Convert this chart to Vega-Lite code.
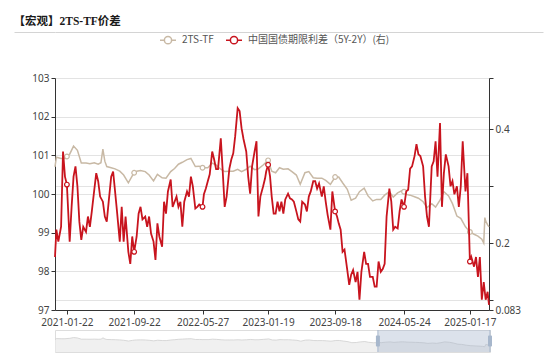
{
  "$schema": "https://vega.github.io/schema/vega-lite/v6.json",
  "padding": {"left": 13, "right": 2, "top": 16, "bottom": 2},
  "background": "white",
  "spacing": 2,
  "resolve": {"scale": {"color": "independent"}, "legend": {"color": "independent"}},
  "datasets": {
    "ts": [
      {"d":"2020-12-10","v":100.7},{"d":"2020-12-15","v":100.95},{"d":"2021-01-01","v":100.92},{"d":"2021-01-15","v":100.92},{"d":"2021-01-22","v":100.97},
      {"d":"2021-02-01","v":101.03},{"d":"2021-02-15","v":101.24},{"d":"2021-03-01","v":101.13},{"d":"2021-03-15","v":100.8},{"d":"2021-04-01","v":100.8},
      {"d":"2021-04-15","v":100.78},{"d":"2021-05-01","v":100.81},{"d":"2021-05-15","v":100.77},{"d":"2021-05-25","v":100.81},{"d":"2021-06-01","v":101.16},
      {"d":"2021-06-08","v":100.85},{"d":"2021-06-15","v":100.71},{"d":"2021-07-01","v":100.68},{"d":"2021-07-15","v":100.65},{"d":"2021-08-01","v":100.59},
      {"d":"2021-08-15","v":100.49},{"d":"2021-09-01","v":100.29},{"d":"2021-09-15","v":100.47},{"d":"2021-09-22","v":100.55},{"d":"2021-10-01","v":100.59},
      {"d":"2021-10-15","v":100.61},{"d":"2021-11-01","v":100.58},{"d":"2021-11-15","v":100.49},{"d":"2021-12-01","v":100.34},{"d":"2021-12-15","v":100.51},
      {"d":"2022-01-01","v":100.42},{"d":"2022-01-15","v":100.41},{"d":"2022-02-01","v":100.58},{"d":"2022-02-15","v":100.66},{"d":"2022-03-01","v":100.77},
      {"d":"2022-03-15","v":100.82},{"d":"2022-04-01","v":100.89},{"d":"2022-04-15","v":100.92},{"d":"2022-05-01","v":100.71},{"d":"2022-05-15","v":100.72},
      {"d":"2022-05-27","v":100.68},{"d":"2022-06-15","v":100.68},{"d":"2022-07-01","v":100.8},{"d":"2022-07-15","v":100.75},{"d":"2022-08-01","v":100.64},
      {"d":"2022-08-15","v":100.58},{"d":"2022-09-01","v":100.59},{"d":"2022-09-15","v":100.59},{"d":"2022-10-01","v":100.64},{"d":"2022-10-15","v":100.58},
      {"d":"2022-11-01","v":100.64},{"d":"2022-11-15","v":100.72},{"d":"2022-12-01","v":100.63},{"d":"2022-12-15","v":100.65},{"d":"2023-01-01","v":100.75},
      {"d":"2023-01-19","v":100.87},{"d":"2023-02-01","v":100.59},{"d":"2023-02-15","v":100.55},{"d":"2023-03-01","v":100.68},{"d":"2023-03-15","v":100.64},
      {"d":"2023-04-01","v":100.65},{"d":"2023-04-15","v":100.58},{"d":"2023-05-01","v":100.49},{"d":"2023-05-15","v":100.25},{"d":"2023-06-01","v":100.55},
      {"d":"2023-06-15","v":100.58},{"d":"2023-07-01","v":100.42},{"d":"2023-07-15","v":100.41},{"d":"2023-08-01","v":100.41},{"d":"2023-08-15","v":100.35},
      {"d":"2023-09-01","v":100.25},{"d":"2023-09-18","v":100.44},{"d":"2023-10-01","v":100.44},{"d":"2023-10-15","v":100.29},{"d":"2023-11-01","v":100.12},
      {"d":"2023-11-15","v":99.84},{"d":"2023-12-01","v":99.89},{"d":"2023-12-15","v":100.06},{"d":"2024-01-01","v":100.15},{"d":"2024-01-15","v":99.95},
      {"d":"2024-02-01","v":99.82},{"d":"2024-02-15","v":99.86},{"d":"2024-03-01","v":99.86},{"d":"2024-03-15","v":99.97},{"d":"2024-04-01","v":100.06},
      {"d":"2024-04-15","v":99.92},{"d":"2024-05-01","v":100.03},{"d":"2024-05-15","v":100.08},{"d":"2024-05-24","v":100.06},{"d":"2024-06-01","v":99.99},
      {"d":"2024-06-15","v":99.97},{"d":"2024-07-01","v":99.93},{"d":"2024-07-15","v":99.89},{"d":"2024-08-01","v":99.8},{"d":"2024-08-15","v":99.65},
      {"d":"2024-09-01","v":99.75},{"d":"2024-09-15","v":99.66},{"d":"2024-10-01","v":99.84},{"d":"2024-10-15","v":100.06},{"d":"2024-11-01","v":99.95},
      {"d":"2024-11-15","v":99.75},{"d":"2024-12-01","v":99.43},{"d":"2024-12-15","v":99.37},{"d":"2025-01-01","v":99.15},{"d":"2025-01-17","v":99.02},
      {"d":"2025-02-01","v":98.96},{"d":"2025-02-15","v":98.91},{"d":"2025-03-01","v":98.83},{"d":"2025-03-08","v":98.73},{"d":"2025-03-12","v":99.39},
      {"d":"2025-03-15","v":99.3},{"d":"2025-03-22","v":99.2},{"d":"2025-03-27","v":99.15}
    ],
    "sp": [
      {"d":"2020-12-10","v":0.176},{"d":"2020-12-15","v":0.224},{"d":"2020-12-22","v":0.203},{"d":"2021-01-01","v":0.229},{"d":"2021-01-08","v":0.361},
      {"d":"2021-01-15","v":0.317},{"d":"2021-01-22","v":0.303},{"d":"2021-02-01","v":0.203},{"d":"2021-02-08","v":0.264},{"d":"2021-02-15","v":0.317},
      {"d":"2021-02-22","v":0.335},{"d":"2021-03-01","v":0.3},{"d":"2021-03-08","v":0.238},{"d":"2021-03-15","v":0.206},{"d":"2021-03-22","v":0.229},
      {"d":"2021-04-01","v":0.22},{"d":"2021-04-08","v":0.247},{"d":"2021-04-15","v":0.229},{"d":"2021-04-22","v":0.256},{"d":"2021-05-01","v":0.294},
      {"d":"2021-05-08","v":0.323},{"d":"2021-05-15","v":0.309},{"d":"2021-05-22","v":0.282},{"d":"2021-06-01","v":0.273},{"d":"2021-06-08","v":0.247},
      {"d":"2021-06-15","v":0.238},{"d":"2021-06-22","v":0.273},{"d":"2021-07-01","v":0.317},{"d":"2021-07-08","v":0.326},{"d":"2021-07-15","v":0.291},
      {"d":"2021-07-22","v":0.256},{"d":"2021-08-01","v":0.203},{"d":"2021-08-08","v":0.264},{"d":"2021-08-15","v":0.203},{"d":"2021-08-22","v":0.247},
      {"d":"2021-09-01","v":0.185},{"d":"2021-09-08","v":0.164},{"d":"2021-09-15","v":0.212},{"d":"2021-09-22","v":0.185},{"d":"2021-10-01","v":0.212},
      {"d":"2021-10-08","v":0.252},{"d":"2021-10-15","v":0.264},{"d":"2021-10-22","v":0.242},{"d":"2021-11-01","v":0.247},{"d":"2021-11-08","v":0.229},
      {"d":"2021-11-15","v":0.247},{"d":"2021-11-22","v":0.217},{"d":"2021-12-01","v":0.203},{"d":"2021-12-08","v":0.171},{"d":"2021-12-15","v":0.235},
      {"d":"2021-12-22","v":0.212},{"d":"2022-01-01","v":0.194},{"d":"2022-01-08","v":0.273},{"d":"2022-01-15","v":0.252},{"d":"2022-01-22","v":0.291},
      {"d":"2022-02-01","v":0.312},{"d":"2022-02-08","v":0.264},{"d":"2022-02-15","v":0.273},{"d":"2022-02-22","v":0.282},{"d":"2022-03-01","v":0.264},
      {"d":"2022-03-08","v":0.273},{"d":"2022-03-15","v":0.229},{"d":"2022-03-22","v":0.273},{"d":"2022-04-01","v":0.291},{"d":"2022-04-08","v":0.282},
      {"d":"2022-04-15","v":0.317},{"d":"2022-04-22","v":0.3},{"d":"2022-05-01","v":0.261},{"d":"2022-05-08","v":0.264},{"d":"2022-05-15","v":0.268},
      {"d":"2022-05-27","v":0.264},{"d":"2022-06-01","v":0.286},{"d":"2022-06-08","v":0.296},{"d":"2022-06-15","v":0.309},{"d":"2022-06-22","v":0.321},
      {"d":"2022-07-01","v":0.361},{"d":"2022-07-08","v":0.347},{"d":"2022-07-15","v":0.33},{"d":"2022-07-22","v":0.33},{"d":"2022-08-01","v":0.384},
      {"d":"2022-08-08","v":0.326},{"d":"2022-08-15","v":0.264},{"d":"2022-08-22","v":0.282},{"d":"2022-09-01","v":0.331},{"d":"2022-09-08","v":0.347},
      {"d":"2022-09-15","v":0.358},{"d":"2022-09-22","v":0.388},{"d":"2022-10-01","v":0.437},{"d":"2022-10-08","v":0.432},{"d":"2022-10-15","v":0.402},
      {"d":"2022-10-22","v":0.383},{"d":"2022-11-01","v":0.361},{"d":"2022-11-08","v":0.317},{"d":"2022-11-15","v":0.287},{"d":"2022-11-22","v":0.335},
      {"d":"2022-12-01","v":0.361},{"d":"2022-12-08","v":0.379},{"d":"2022-12-15","v":0.247},{"d":"2022-12-22","v":0.282},{"d":"2023-01-01","v":0.3},
      {"d":"2023-01-08","v":0.314},{"d":"2023-01-12","v":0.326},{"d":"2023-01-19","v":0.338},{"d":"2023-01-26","v":0.317},{"d":"2023-02-01","v":0.282},
      {"d":"2023-02-08","v":0.252},{"d":"2023-02-15","v":0.252},{"d":"2023-02-22","v":0.273},{"d":"2023-03-01","v":0.256},{"d":"2023-03-08","v":0.273},
      {"d":"2023-03-15","v":0.252},{"d":"2023-03-22","v":0.277},{"d":"2023-04-01","v":0.287},{"d":"2023-04-08","v":0.279},{"d":"2023-04-15","v":0.277},
      {"d":"2023-04-22","v":0.273},{"d":"2023-05-01","v":0.256},{"d":"2023-05-08","v":0.242},{"d":"2023-05-15","v":0.238},{"d":"2023-05-22","v":0.273},
      {"d":"2023-06-01","v":0.268},{"d":"2023-06-08","v":0.256},{"d":"2023-06-15","v":0.282},{"d":"2023-06-22","v":0.291},{"d":"2023-07-01","v":0.309},
      {"d":"2023-07-08","v":0.309},{"d":"2023-07-15","v":0.296},{"d":"2023-07-22","v":0.305},{"d":"2023-08-01","v":0.282},{"d":"2023-08-08","v":0.3},
      {"d":"2023-08-15","v":0.273},{"d":"2023-08-22","v":0.25},{"d":"2023-09-01","v":0.224},{"d":"2023-09-08","v":0.291},{"d":"2023-09-18","v":0.256},
      {"d":"2023-09-25","v":0.247},{"d":"2023-10-01","v":0.235},{"d":"2023-10-08","v":0.224},{"d":"2023-10-15","v":0.185},{"d":"2023-10-22","v":0.189},
      {"d":"2023-11-01","v":0.153},{"d":"2023-11-08","v":0.127},{"d":"2023-11-15","v":0.145},{"d":"2023-11-22","v":0.153},{"d":"2023-12-01","v":0.132},
      {"d":"2023-12-08","v":0.15},{"d":"2023-12-15","v":0.101},{"d":"2023-12-22","v":0.15},{"d":"2024-01-01","v":0.185},{"d":"2024-01-08","v":0.164},
      {"d":"2024-01-15","v":0.164},{"d":"2024-01-22","v":0.141},{"d":"2024-02-01","v":0.141},{"d":"2024-02-08","v":0.124},{"d":"2024-02-15","v":0.124},
      {"d":"2024-02-22","v":0.168},{"d":"2024-03-01","v":0.15},{"d":"2024-03-08","v":0.155},{"d":"2024-03-15","v":0.164},{"d":"2024-03-22","v":0.247},
      {"d":"2024-04-01","v":0.296},{"d":"2024-04-08","v":0.273},{"d":"2024-04-15","v":0.224},{"d":"2024-04-22","v":0.229},{"d":"2024-05-01","v":0.226},
      {"d":"2024-05-08","v":0.256},{"d":"2024-05-15","v":0.277},{"d":"2024-05-24","v":0.264},{"d":"2024-06-01","v":0.291},{"d":"2024-06-08","v":0.294},
      {"d":"2024-06-15","v":0.331},{"d":"2024-06-22","v":0.335},{"d":"2024-07-01","v":0.353},{"d":"2024-07-08","v":0.374},{"d":"2024-07-15","v":0.356},
      {"d":"2024-07-22","v":0.353},{"d":"2024-08-01","v":0.335},{"d":"2024-08-08","v":0.282},{"d":"2024-08-15","v":0.247},{"d":"2024-08-22","v":0.229},
      {"d":"2024-09-01","v":0.335},{"d":"2024-09-08","v":0.344},{"d":"2024-09-15","v":0.379},{"d":"2024-09-22","v":0.317},{"d":"2024-10-01","v":0.411},
      {"d":"2024-10-08","v":0.264},{"d":"2024-10-15","v":0.323},{"d":"2024-10-22","v":0.356},{"d":"2024-11-01","v":0.335},{"d":"2024-11-08","v":0.3},
      {"d":"2024-11-15","v":0.309},{"d":"2024-11-22","v":0.286},{"d":"2024-12-01","v":0.3},{"d":"2024-12-08","v":0.264},{"d":"2024-12-15","v":0.3},
      {"d":"2024-12-22","v":0.379},{"d":"2025-01-01","v":0.291},{"d":"2025-01-08","v":0.323},{"d":"2025-01-17","v":0.168},{"d":"2025-01-22","v":0.176},
      {"d":"2025-02-01","v":0.159},{"d":"2025-02-08","v":0.176},{"d":"2025-02-15","v":0.141},{"d":"2025-02-22","v":0.176},{"d":"2025-03-01","v":0.101},
      {"d":"2025-03-08","v":0.132},{"d":"2025-03-15","v":0.101},{"d":"2025-03-22","v":0.115},{"d":"2025-03-27","v":0.092}
    ],
    "win": [{"a":"2024-02-17","b":"2025-03-27"}]
  },
  "vconcat": [
    {
      "title": {"text": "【宏观】2TS-TF价差", "anchor": "start", "frame": "bounds", "font": "Liberation Serif, Noto Sans CJK SC", "fontSize": 11.5, "fontWeight": "bold", "color": "#1a1a1a", "offset": -7, "baseline": "bottom"},
      "width": 488,
      "height": 1,
      "view": {"stroke": null},
      "data": {"values": []},
      "mark": {"type": "point", "opacity": 0},
      "encoding": {
        "y": {"datum": 0, "type": "quantitative", "scale": {"domain": [0, 1], "nice": false},
          "axis": {"orient": "left", "title": null, "values": [1], "labels": false, "domain": false,
            "ticks": true, "tickSize": 41, "tickColor": "#d4d4d4", "tickWidth": 1,
            "grid": true, "gridColor": "#d4d4d4", "gridWidth": 1}}
      }
    },
    {
      "width": 434,
      "height": 232,
      "view": {"stroke": null},
      "encoding": {
        "x": {
          "field": "d", "type": "temporal",
          "scale": {"type": "utc", "domain": [{"year": 2020, "month": 12, "date": 10, "utc": true}, {"year": 2025, "month": 3, "date": 27, "utc": true}]},
          "axis": {
            "title": null, "grid": false, "format": "%Y-%m-%d",
            "values": [
              {"year": 2021, "month": 1, "date": 22, "utc": true},
              {"year": 2021, "month": 9, "date": 22, "utc": true},
              {"year": 2022, "month": 5, "date": 27, "utc": true},
              {"year": 2023, "month": 1, "date": 19, "utc": true},
              {"year": 2023, "month": 9, "date": 18, "utc": true},
              {"year": 2024, "month": 5, "date": 24, "utc": true},
              {"year": 2025, "month": 1, "date": 17, "utc": true}
            ],
            "domainColor": "#333333", "tickColor": "#333333", "tickSize": 4,
            "labelColor": "#444444", "labelFont": "Noto Sans", "labelFontSize": 10, "labelPadding": 3,
            "labelFlush": false, "labelOverlap": false, "minExtent": 15, "maxExtent": 15
          }
        }
      },
      "layer": [
        {
          "data": {"name": "ts", "format": {"parse": {"d": "date"}}},
          "encoding": {
            "y": {
              "field": "v", "type": "quantitative",
              "scale": {"domain": [97, 103], "nice": false, "zero": false},
              "axis": {
                "orient": "left", "title": null, "values": [97, 98, 99, 100, 101, 102, 103],
                "grid": true, "gridColor": "#e3e3e3", "domainColor": "#333333", "tickColor": "#333333", "tickSize": 4,
                "labelColor": "#444444", "labelFont": "Noto Sans", "labelFontSize": 10, "labelPadding": 2
              }
            }
          },
          "layer": [
            {
              "mark": {"type": "line", "strokeWidth": 1.5},
              "encoding": {
                "color": {"datum": "2TS-TF", "type": "nominal",
                  "scale": {"domain": ["2TS-TF", "中国国债期限利差（5Y-2Y）(右)"], "range": ["#c8b9a5", "#c8141e"]},
                  "legend": {"title": null, "orient": "none", "legendX": 108, "legendY": -43, "direction": "horizontal",
                    "symbolType": "M-2,0H-0.9M0.9,0H2M0.9,0A0.9,0.9,0,1,1,-0.9,0A0.9,0.9,0,1,1,0.9,0",
                    "symbolSize": 64, "symbolStrokeWidth": 1.5, "symbolFillColor": "#ffffff",
                    "labelFont": "Noto Sans CJK SC", "labelFontSize": 10, "labelColor": "#555555", "labelOffset": 9, "columnPadding": 9, "padding": 0}
                }
              }
            },
            {
              "transform": [{"filter": "indexof(['2021-01-22','2021-09-22','2022-05-27','2023-01-19','2023-09-18','2024-05-24','2025-01-17'], utcFormat(datum.d, '%Y-%m-%d')) >= 0"}],
              "mark": {"type": "point", "filled": false, "fill": "#ffffff", "size": 22, "strokeWidth": 1.2, "opacity": 1},
              "encoding": {
                "color": {"datum": "2TS-TF", "type": "nominal",
                  "legend": {"title": null, "orient": "none", "legendX": 108, "legendY": -43, "direction": "horizontal",
                    "symbolType": "M-2,0H-0.9M0.9,0H2M0.9,0A0.9,0.9,0,1,1,-0.9,0A0.9,0.9,0,1,1,0.9,0",
                    "symbolSize": 64, "symbolStrokeWidth": 1.5, "symbolFillColor": "#ffffff",
                    "labelFont": "Noto Sans CJK SC", "labelFontSize": 10, "labelColor": "#555555", "labelOffset": 9, "columnPadding": 9, "padding": 0}
                }
              }
            }
          ]
        },
        {
          "data": {"name": "sp", "format": {"parse": {"d": "date"}}},
          "encoding": {
            "y": {
              "field": "v", "type": "quantitative",
              "scale": {"domain": [0.083, 0.49], "nice": false, "zero": false},
              "axis": {
                "orient": "right", "title": null, "values": [0.083, 0.1, 0.2, 0.3, 0.4, 0.49], "format": "~g",
                "grid": true, "gridColor": "#e3e3e3", "domainColor": "#333333", "tickColor": "#333333", "tickSize": 4,
                "labelColor": "#444444", "labelFont": "Noto Sans", "labelFontSize": 10, "labelPadding": 2
              }
            }
          },
          "layer": [
            {
              "mark": {"type": "line", "strokeWidth": 1.8},
              "encoding": {
                "color": {"datum": "中国国债期限利差（5Y-2Y）(右)", "type": "nominal",
                  "legend": {"title": null, "orient": "none", "legendX": 108, "legendY": -43, "direction": "horizontal",
                    "symbolType": "M-2,0H-0.9M0.9,0H2M0.9,0A0.9,0.9,0,1,1,-0.9,0A0.9,0.9,0,1,1,0.9,0",
                    "symbolSize": 64, "symbolStrokeWidth": 1.5, "symbolFillColor": "#ffffff",
                    "labelFont": "Noto Sans CJK SC", "labelFontSize": 10, "labelColor": "#555555", "labelOffset": 9, "columnPadding": 9, "padding": 0}
                }
              }
            },
            {
              "transform": [{"filter": "indexof(['2021-01-22','2021-09-22','2022-05-27','2023-01-19','2023-09-18','2024-05-24','2025-01-17'], utcFormat(datum.d, '%Y-%m-%d')) >= 0"}],
              "mark": {"type": "point", "filled": false, "fill": "#ffffff", "size": 22, "strokeWidth": 1.2, "opacity": 1},
              "encoding": {
                "color": {"datum": "中国国债期限利差（5Y-2Y）(右)", "type": "nominal",
                  "legend": {"title": null, "orient": "none", "legendX": 108, "legendY": -43, "direction": "horizontal",
                    "symbolType": "M-2,0H-0.9M0.9,0H2M0.9,0A0.9,0.9,0,1,1,-0.9,0A0.9,0.9,0,1,1,0.9,0",
                    "symbolSize": 64, "symbolStrokeWidth": 1.5, "symbolFillColor": "#ffffff",
                    "labelFont": "Noto Sans CJK SC", "labelFontSize": 10, "labelColor": "#555555", "labelOffset": 9, "columnPadding": 9, "padding": 0}
                }
              }
            }
          ]
        }
      ],
      "resolve": {"scale": {"y": "independent"}}
    },
    {
      "width": 435,
      "height": 22,
      "view": {"stroke": "#dddddd"},
      "layer": [
        {
          "data": {"name": "ts", "format": {"parse": {"d": "date"}}},
          "mark": {"type": "area", "color": "#e9e9e9", "clip": true, "line": {"color": "#cfcfcf", "strokeWidth": 0.8}},
          "encoding": {
            "x": {"field": "d", "type": "temporal", "axis": null,
              "scale": {"type": "utc", "domain": [{"year": 2020, "month": 12, "date": 10, "utc": true}, {"year": 2025, "month": 3, "date": 27, "utc": true}]}},
            "y": {"field": "v", "type": "quantitative", "axis": null, "scale": {"domain": [97.3, 103.3], "nice": false, "zero": false}},
            "y2": {"datum": 97.3}
          }
        },
        {
          "data": {"name": "win", "format": {"parse": {"a": "date", "b": "date"}}},
          "mark": {"type": "rect", "color": "#a7b7cc", "opacity": 0.4},
          "encoding": {
            "x": {"field": "a", "type": "temporal", "axis": null},
            "x2": {"field": "b"}
          }
        },
        {
          "data": {"name": "win", "format": {"parse": {"a": "date", "b": "date"}}},
          "mark": {"type": "rule", "color": "#a7b7cc", "strokeWidth": 1},
          "encoding": {"x": {"field": "a", "type": "temporal", "axis": null}}
        },
        {
          "data": {"name": "win", "format": {"parse": {"a": "date", "b": "date"}}},
          "mark": {"type": "rule", "color": "#a7b7cc", "strokeWidth": 1},
          "encoding": {"x": {"field": "b", "type": "temporal", "axis": null}}
        },
        {
          "data": {"name": "win", "format": {"parse": {"a": "date", "b": "date"}}},
          "mark": {"type": "tick", "color": "#a7b7cc", "thickness": 4, "size": 11, "opacity": 1, "cornerRadius": 1},
          "encoding": {"x": {"field": "a", "type": "temporal", "axis": null}}
        },
        {
          "data": {"name": "win", "format": {"parse": {"a": "date", "b": "date"}}},
          "mark": {"type": "tick", "color": "#a7b7cc", "thickness": 4, "size": 11, "opacity": 1, "cornerRadius": 1},
          "encoding": {"x": {"field": "b", "type": "temporal", "axis": null}}
        }
      ]
    }
  ]
}
